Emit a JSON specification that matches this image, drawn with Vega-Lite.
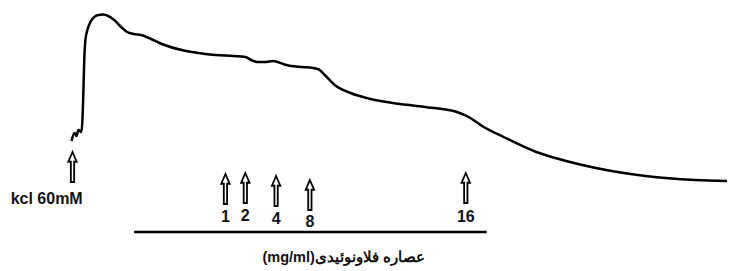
{
  "$schema": "https://vega.github.io/schema/vega-lite/v6.json",
  "width": 732,
  "height": 271,
  "padding": 0,
  "autosize": {"type": "fit", "contains": "padding"},
  "background": "white",
  "config": {"view": {"stroke": null}},
  "datasets": {
    "trace": [
      {"t": 72, "v": 141}, {"t": 75, "v": 133}, {"t": 77, "v": 136}, {"t": 79, "v": 130}, {"t": 82, "v": 132},
      {"t": 83, "v": 120}, {"t": 84, "v": 90}, {"t": 85, "v": 55}, {"t": 86, "v": 40}, {"t": 88, "v": 30},
      {"t": 91, "v": 22}, {"t": 95, "v": 17}, {"t": 99, "v": 15}, {"t": 104, "v": 14.5}, {"t": 109, "v": 16}, {"t": 115, "v": 20},
      {"t": 122, "v": 27}, {"t": 128, "v": 32}, {"t": 135, "v": 34}, {"t": 142, "v": 35}, {"t": 150, "v": 38},
      {"t": 163, "v": 44}, {"t": 183, "v": 50}, {"t": 200, "v": 53}, {"t": 217, "v": 55}, {"t": 235, "v": 56},
      {"t": 247, "v": 57}, {"t": 253, "v": 60}, {"t": 260, "v": 62}, {"t": 267, "v": 62}, {"t": 275, "v": 61},
      {"t": 285, "v": 64}, {"t": 293, "v": 66}, {"t": 305, "v": 67}, {"t": 320, "v": 69}, {"t": 327, "v": 75},
      {"t": 337, "v": 85}, {"t": 353, "v": 93}, {"t": 373, "v": 99}, {"t": 403, "v": 104}, {"t": 437, "v": 108},
      {"t": 460, "v": 112}, {"t": 470, "v": 116}, {"t": 487, "v": 127}, {"t": 507, "v": 137}, {"t": 540, "v": 152},
      {"t": 570, "v": 161}, {"t": 600, "v": 168}, {"t": 650, "v": 176}, {"t": 700, "v": 180}, {"t": 732, "v": 181}
    ],
    "arrows": [
      {"t": 73, "v": 167, "label": "kcl 60mM", "lt": 47, "lv": 199},
      {"t": 227, "v": 189, "label": "1", "lt": 227, "lv": 217},
      {"t": 247, "v": 188, "label": "2", "lt": 247, "lv": 216},
      {"t": 278, "v": 191, "label": "4", "lt": 278, "lv": 219},
      {"t": 312, "v": 195, "label": "8", "lt": 312, "lv": 222},
      {"t": 469, "v": 188, "label": "16", "lt": 469, "lv": 217}
    ],
    "bar": [{"t": 135, "t2": 490, "v": 232}],
    "caption": [{"t": 346, "v": 258, "text": "(mg/ml)\u200eعصاره فلاونوئیدی"}]
  },
  "layer": [
    {
      "data": {"name": "trace"},
      "mark": {"type": "line", "color": "black", "strokeWidth": 2.5, "interpolate": "monotone"},
      "encoding": {
        "x": {"field": "t", "type": "quantitative", "scale": {"domain": [0, 732], "nice": false, "zero": false}, "axis": null},
        "y": {"field": "v", "type": "quantitative", "scale": {"domain": [0, 271], "nice": false, "zero": false, "reverse": true}, "axis": null}
      }
    },
    {
      "data": {"name": "bar"},
      "mark": {"type": "rule", "color": "black", "strokeWidth": 2.5},
      "encoding": {
        "x": {"field": "t", "type": "quantitative", "scale": {"domain": [0, 732], "nice": false, "zero": false}, "axis": null},
        "x2": {"field": "t2"},
        "y": {"field": "v", "type": "quantitative", "scale": {"domain": [0, 271], "nice": false, "zero": false, "reverse": true}, "axis": null}
      }
    },
    {
      "data": {"name": "arrows"},
      "mark": {"type": "point", "shape": "M0,-1L0.28,-0.35L0.11,-0.35L0.11,1L-0.11,1L-0.11,-0.35L-0.28,-0.35Z", "size": 900, "filled": false, "stroke": "black", "strokeWidth": 1.8, "opacity": 1},
      "encoding": {
        "x": {"field": "t", "type": "quantitative", "scale": {"domain": [0, 732], "nice": false, "zero": false}, "axis": null},
        "y": {"field": "v", "type": "quantitative", "scale": {"domain": [0, 271], "nice": false, "zero": false, "reverse": true}, "axis": null}
      }
    },
    {
      "data": {"name": "arrows"},
      "mark": {"type": "text", "font": "Liberation Sans", "fontWeight": "bold", "fontSize": 16, "color": "#111", "baseline": "middle", "align": "center"},
      "encoding": {
        "x": {"field": "lt", "type": "quantitative", "scale": {"domain": [0, 732], "nice": false, "zero": false}, "axis": null},
        "y": {"field": "lv", "type": "quantitative", "scale": {"domain": [0, 271], "nice": false, "zero": false, "reverse": true}, "axis": null},
        "text": {"field": "label"}
      }
    },
    {
      "data": {"name": "caption"},
      "mark": {"type": "text", "font": "Liberation Sans", "fontWeight": "bold", "fontSize": 14.5, "color": "#111", "baseline": "middle", "align": "center"},
      "encoding": {
        "x": {"field": "t", "type": "quantitative", "scale": {"domain": [0, 732], "nice": false, "zero": false}, "axis": null},
        "y": {"field": "v", "type": "quantitative", "scale": {"domain": [0, 271], "nice": false, "zero": false, "reverse": true}, "axis": null},
        "text": {"field": "text"}
      }
    }
  ]
}
